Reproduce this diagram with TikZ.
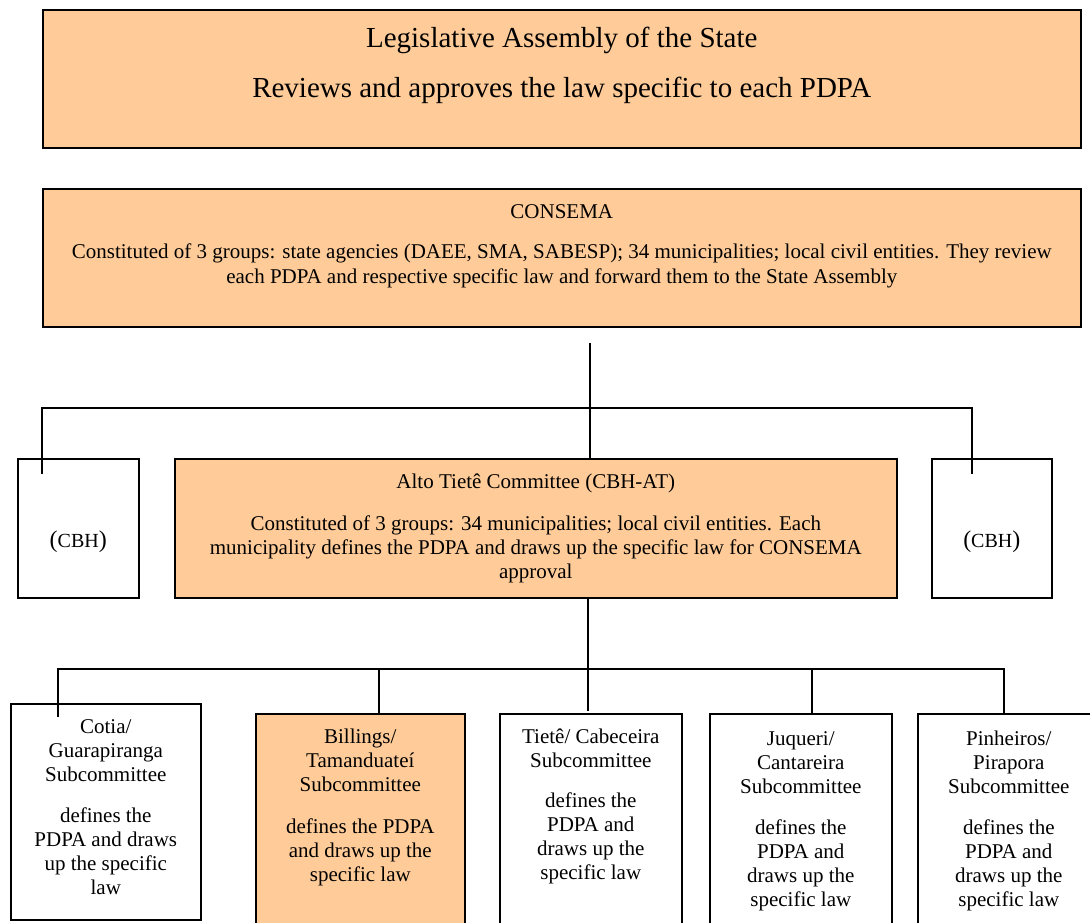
\documentclass[tikz,border=0pt]{standalone}
\usepackage{fontspec}
\setmainfont{Liberation Serif}
\definecolor{peach}{HTML}{FFCC99}
% width, height, first baseline, font size, line skip, text
\newcommand{\boxtxt}[6]{\parbox[c][#2pt][t]{#1pt}{\fontsize{#4}{#5}\selectfont\centering\rule{0pt}{#3pt}#6}}
\newcommand{\bigparen}[1]{{\fontsize{24}{24}\selectfont #1}}

\begin{document}
\begin{tikzpicture}[x=1pt, y=-1pt,
    plainbox/.style={rectangle, draw=black, line width=1.6pt, inner sep=0pt, anchor=north west},
    orgbox/.style={plainbox, fill=peach},
    link/.style={line width=1.3pt}]
    \useasboundingbox (0,0) rectangle (1090,922);

    \node(legis)[orgbox] at (42,9) {\boxtxt{1038}{138}{38}{29}{50}{Legislative Assembly of the State\\Reviews and approves the law specific to each PDPA}};
    \node(consema)[orgbox] at (42,188) {\boxtxt{1038}{138}{30}{21}{25}{CONSEMA\\[15pt]Constituted of 3 groups: state agencies (DAEE, SMA, SABESP); 34 municipalities; local civil entities. They review\\each PDPA and respective specific law and forward them to the State Assembly}};

    \node(cbhL)[plainbox] at (17,458) {\boxtxt{121}{139}{89}{20}{24}{\bigparen{(}CBH\bigparen{)}}};
    \node(alto)[orgbox] at (174,458) {\boxtxt{722}{139}{30}{21}{24}{Alto Tietê Committee (CBH-AT)\\[18pt]Constituted of 3 groups: 34 municipalities; local civil entities. Each\\municipality defines the PDPA and draws up the specific law for CONSEMA\\approval}};
    \node(cbhR)[plainbox] at (931,458) {\boxtxt{120}{139}{89}{20}{24}{\bigparen{(}CBH\bigparen{)}}};

    \node(cotia)[plainbox] at (10,703) {\boxtxt{190}{216}{30}{21}{24}{Cotia/\\Guarapiranga\\Subcommittee\\[17pt]defines the\\PDPA and draws\\up the specific\\law}};
    \node(billings)[orgbox] at (255,713) {\boxtxt{209}{225}{30}{21}{24}{Billings/\\Tamanduateí\\Subcommittee\\[18pt]defines the PDPA\\and draws up the\\specific law}};
    \node(tiete)[plainbox] at (499,713) {\boxtxt{182}{225}{30}{21}{24}{Tietê/ Cabeceira\\Subcommittee\\[16pt]defines the\\PDPA and\\draws up the\\specific law}};
    \node(juqueri)[plainbox] at (709,713) {\boxtxt{182}{225}{32}{21}{24}{Juqueri/\\Cantareira\\Subcommittee\\[17pt]defines the\\PDPA and\\draws up the\\specific law}};
    \node(pinheiros)[plainbox] at (917,713) {\boxtxt{182}{225}{32}{21}{24}{Pinheiros/\\Pirapora\\Subcommittee\\[17pt]defines the\\PDPA and\\draws up the\\specific law}};

    % CONSEMA to the committees
    \coordinate(cnsm) at (590,343);
    \coordinate(split) at (590,408);
    \draw[link] (cnsm) -- (alto.north -| cnsm);
    \draw[link, shorten >=-16pt] (split) -| ([xshift=25pt]cbhL.north west);
    \draw[link, shorten >=-16pt] (split) -| ([xshift=41pt]cbhR.north west);

    % Alto Tiete to the subcommittees
    \coordinate(split2) at (588,669);
    \draw[link] (alto.south -| split2) -- ([yshift=2pt]tiete.north -| split2);
    \draw[link, shorten >=-14pt] (split2) -| ([xshift=48pt]cotia.north west);
    \draw[link, shorten >=-2pt] (split2) -| ([xshift=124pt]billings.north west);
    \draw[link] (split2) -| ([xshift=103pt]juqueri.north west);
    \draw[link] (split2) -| ([xshift=87pt]pinheiros.north west);

\end{tikzpicture}
\end{document}
